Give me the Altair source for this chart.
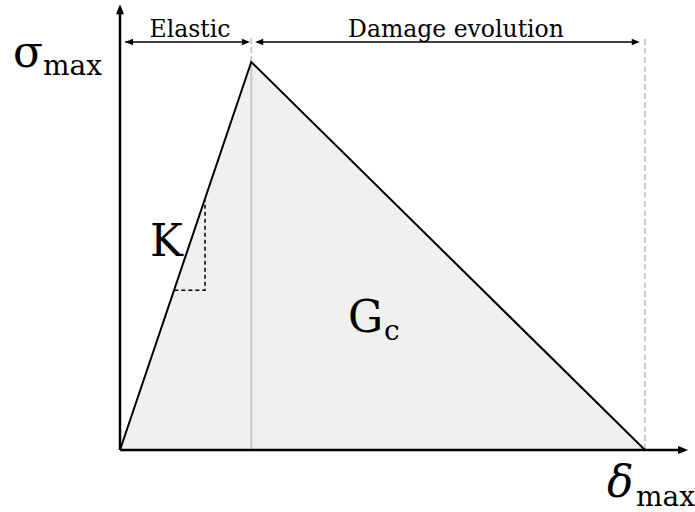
import altair as alt
import pandas as pd

# Bilinear traction-separation law (normalised: peak at delta=1, sigma=1)
delta = [0.0, 1.0, 4.0]
sigma = [0.0, 1.0, 0.0]

# stiffness triangle (K) drawn on the elastic branch
k_delta = [0.414, 0.648, 0.648]
k_sigma = [0.412, 0.412, 0.644]

W, H = 695, 512
xs = alt.Scale(domain=[-0.9143, 4.381], nice=False, zero=False)
ys = alt.Scale(domain=[-0.1598, 1.1598], nice=False, zero=False)

FONT = "DejaVu Serif"
DIM_Y = 1.0515      # height of the dimension arrows
GUIDE_TOP = 1.062   # top of the vertical guide lines


def X(field):
    return alt.X(field, type="quantitative", scale=xs, axis=None)


def Y(field):
    return alt.Y(field, type="quantitative", scale=ys, axis=None)


law = pd.DataFrame({"d": delta, "s": sigma})

area = alt.Chart(law).mark_area(color="#f0f0f0", opacity=1).encode(x=X("d"), y=Y("s"))

# solid grey line from the peak down to the axis
peak_line = alt.Chart(pd.DataFrame({"d": [1.0], "s0": [0.0], "s1": [1.0]})).mark_rule(
    color="#c8c8c8", strokeWidth=2
).encode(x=X("d"), y=Y("s0"), y2="s1")

# dashed grey guides
guides = alt.Chart(pd.DataFrame({"d": [1.0, 4.0], "s0": [1.0, 0.0], "s1": [GUIDE_TOP, GUIDE_TOP]})).mark_rule(
    color="#cccccc", strokeWidth=2, strokeDash=[6, 3]
).encode(x=X("d"), y=Y("s0"), y2="s1")

curve = alt.Chart(law.assign(o=[0, 1, 2])).mark_line(
    color="black", strokeWidth=2, strokeJoin="miter"
).encode(x=X("d"), y=Y("s"), order="o")

k_tri = alt.Chart(pd.DataFrame({"d": k_delta, "s": k_sigma, "o": [0, 1, 2]})).mark_line(
    color="black", strokeWidth=1.5, strokeDash=[4, 3]
).encode(x=X("d"), y=Y("s"), order="o")

# axes
axes = alt.Chart(pd.DataFrame({
    "x0": [0.0, 0.0], "x1": [4.267, 0.0], "y0": [0.0, 0.0], "y1": [0.0, 1.124]
})).mark_rule(color="black", strokeWidth=2.5).encode(x=X("x0"), x2="x1", y=Y("y0"), y2="y1")

# dimension lines
dims = alt.Chart(pd.DataFrame({
    "x0": [0.04, 1.06], "x1": [0.97, 3.94], "y": [DIM_Y, DIM_Y]
})).mark_rule(color="black", strokeWidth=1.6).encode(x=X("x0"), x2="x1", y=Y("y"))

RIGHT = "M0,0L-2,-0.8L-2,0.8Z"
LEFT = "M0,0L2,-0.8L2,0.8Z"
UP = "M0,0L-0.8,2L0.8,2Z"

heads = pd.DataFrame({
    "x": [4.328, 0.0, 0.038, 0.99, 1.03, 3.96],
    "y": [0.0, 1.149, DIM_Y, DIM_Y, DIM_Y, DIM_Y],
    "shape": [RIGHT, UP, LEFT, RIGHT, LEFT, RIGHT],
    "size": [100, 100, 64, 64, 64, 64],
})
arrowheads = alt.Chart(heads).mark_point(filled=True, color="black", opacity=1, strokeWidth=0).encode(
    x=X("x"), y=Y("y"),
    shape=alt.Shape("shape:N", scale=None),
    size=alt.Size("size:Q", scale=None),
)

# region labels
regions = alt.Chart(pd.DataFrame({
    "x": [0.533, 2.56], "y": [1.064, 1.064], "t": ["Elastic", "Damage evolution"]
})).mark_text(font=FONT, fontSize=23.5, align="center", baseline="alphabetic", color="black").encode(
    x=X("x"), y=Y("y"), text="t:N"
)

big = pd.DataFrame({
    "x": [-0.815, 0.2286, 1.737],
    "y": [0.987, 0.5, 0.304],
    "t": ["σ", "K", "G"],
})
big_text = alt.Chart(big).mark_text(font=FONT, fontSize=44, align="left", baseline="alphabetic", color="black").encode(
    x=X("x"), y=Y("y"), text="t:N"
)

delta_sym = alt.Chart(pd.DataFrame({"x": [3.71], "y": [-0.121], "t": ["δ"]})).mark_text(
    font=FONT, fontSize=44, fontStyle="italic", align="left", baseline="alphabetic", color="black"
).encode(x=X("x"), y=Y("y"), text="t:N")

subs = pd.DataFrame({
    "x": [-0.587, 3.931, 2.011],
    "y": [0.9665, -0.1443, 0.2835],
    "t": ["max", "max", "c"],
})
sub_text = alt.Chart(subs).mark_text(font=FONT, fontSize=28, align="left", baseline="alphabetic", color="black").encode(
    x=X("x"), y=Y("y"), text="t:N"
)

chart = alt.layer(
    area, peak_line, guides, curve, k_tri, axes, dims, arrowheads,
    regions, big_text, delta_sym, sub_text
).properties(
    width=W, height=H, autosize=alt.AutoSizeParams(type="none"), padding=0, background="white"
).configure_view(stroke=None)

chart.save("out.html", embed_options={"renderer": "svg", "actions": False})
